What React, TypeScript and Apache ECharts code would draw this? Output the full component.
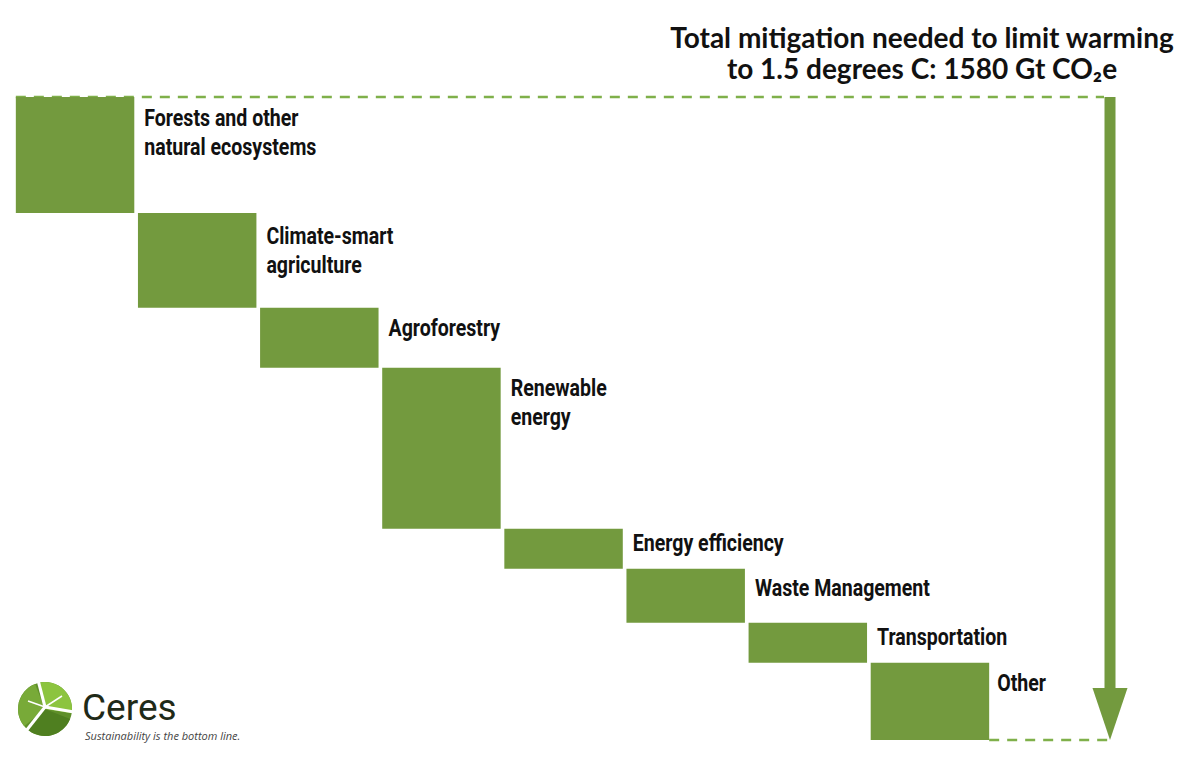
import React, { useEffect, useRef } from "react";
import * as echarts from "echarts";

const categories = [
  "Forests and other\nnatural ecosystems",
  "Climate-smart\nagriculture",
  "Agroforestry",
  "Renewable\nenergy",
  "Energy efficiency",
  "Waste Management",
  "Transportation",
  "Other",
];
const values = [285, 233, 147, 396, 98, 133, 98, 190];
const total = 1580;
const titleLines = ["Total mitigation needed to limit warming", "to 1.5 degrees C: 1580 Gt CO₂e"];
const logoName = "Ceres";
const logoTagline = "Sustainability is the bottom line.";

// vertical nudge of each label below its bar's top (styling)
const labelDy = [6.5, 8.5, 5.5, 5.5, -0.5, 4.5, -0.5, 5.5];

const BAR = "#739a3e";
const DASH = "#7fb04a";

export default function App() {
  const ref = useRef<HTMLDivElement>(null);
  useEffect(() => {
    document.body.style.margin = "0";
    const chart = echarts.init(ref.current!, null, { renderer: "svg" });
    const bases: number[] = [];
    let acc = 0;
    for (const v of values) {
      bases.push(acc);
      acc += v;
    }
    const BW = 0.97;
    chart.setOption({
      animation: false,
      grid: { left: 14, right: 209, top: 97, bottom: 25 },
      xAxis: { type: "category", data: categories, show: false },
      yAxis: { type: "value", inverse: true, min: 0, max: total, show: false },
      series: [
        {
          type: "bar",
          stack: "w",
          data: bases,
          itemStyle: { color: "transparent" },
          silent: true,
          barWidth: BW * 100 + "%",
        },
        {
          type: "bar",
          stack: "w",
          data: values,
          barWidth: BW * 100 + "%",
          itemStyle: { color: BAR },
        },
      ],
    });

    const yTop = chart.convertToPixel({ yAxisIndex: 0 }, 0) as number;
    const yBot = chart.convertToPixel({ yAxisIndex: 0 }, total) as number;
    const xs = categories.map((c) => chart.convertToPixel({ xAxisIndex: 0 }, c) as number);
    const band = (xs[xs.length - 1] - xs[0]) / (categories.length - 1);
    const barHalf = (band * BW) / 2;
    const xLeft = xs[0] - barHalf;
    const xRightBar = xs[xs.length - 1] + barHalf;
    const ax = 1110;

    const labelEls = categories.map((c, i) => ({
      type: "text",
      x: xs[i] + barHalf + (i === categories.length - 1 ? 8 : 10),
      y: (chart.convertToPixel({ yAxisIndex: 0 }, bases[i]) as number) + labelDy[i],
      scaleX: 0.85,
      style: {
        text: c,
        font: "bold 23px Roboto, sans-serif",
        lineHeight: 29,
        fill: "#111",
        align: "left",
        verticalAlign: "top",
      },
    }));

    chart.setOption({
      graphic: [
        ...labelEls,
        {
          type: "line",
          shape: { x1: xLeft, y1: yTop, x2: ax - 6, y2: yTop },
          style: { stroke: DASH, lineWidth: 2.5, lineDash: [10, 8] },
        },
        {
          type: "line",
          shape: { x1: xRightBar, y1: yBot, x2: ax, y2: yBot },
          style: { stroke: DASH, lineWidth: 2.5, lineDash: [10, 8] },
        },
        {
          type: "rect",
          shape: { x: ax - 5.5, y: yTop, width: 11, height: yBot - yTop - 50 },
          style: { fill: BAR },
        },
        {
          type: "polygon",
          shape: { points: [[ax - 17.5, yBot - 52], [ax + 17.5, yBot - 52], [ax, yBot]] },
          style: { fill: BAR },
        },
        {
          type: "text",
          x: 922,
          y: 37,
          style: {
            text: titleLines[0],
            font: "bold 28px Lato, sans-serif",
            fill: "#111",
            align: "center",
            verticalAlign: "middle",
          },
        },
        {
          type: "text",
          x: 922,
          y: 68,
          style: {
            text: titleLines[1],
            font: "bold 28px Lato, sans-serif",
            fill: "#111",
            align: "center",
            verticalAlign: "middle",
          },
        },
        // logo
        {
          type: "group",
          children: [
            { type: "circle", shape: { cx: 45, cy: 709, r: 27 }, style: { fill: "#5f8f2a" } },
            { type: "sector", shape: { cx: 45, cy: 709, r: 27, r0: 0, startAngle: -Math.PI * 0.58, endAngle: Math.PI * 0.05 }, style: { fill: "#8cc43f" } },
            { type: "sector", shape: { cx: 45, cy: 709, r: 27, r0: 0, startAngle: Math.PI * 0.78, endAngle: Math.PI * 1.38 }, style: { fill: "#78aa38" } },
            { type: "sector", shape: { cx: 45, cy: 709, r: 27, r0: 0, startAngle: Math.PI * 0.12, endAngle: Math.PI * 0.72 }, style: { fill: "#4f7f20" } },
            { type: "line", shape: { x1: 45, y1: 707, x2: 38, y2: 680 }, style: { stroke: "#fff", lineWidth: 3 } },
            { type: "line", shape: { x1: 45, y1: 707, x2: 74, y2: 712 }, style: { stroke: "#fff", lineWidth: 3 } },
            { type: "line", shape: { x1: 45, y1: 707, x2: 26, y2: 731 }, style: { stroke: "#fff", lineWidth: 3 } },
            { type: "line", shape: { x1: 45, y1: 707, x2: 28, y2: 701 }, style: { stroke: "#fff", lineWidth: 1.5 } },
            { type: "line", shape: { x1: 45, y1: 707, x2: 62, y2: 696 }, style: { stroke: "#fff", lineWidth: 1.5 } },
          ],
        },
        {
          type: "text",
          x: 82,
          y: 707,
          style: {
            text: logoName,
            font: "37px Roboto, sans-serif",
            fill: "#1f2a18",
            align: "left",
            verticalAlign: "middle",
          },
        },
        {
          type: "text",
          x: 85,
          y: 735,
          style: {
            text: logoTagline,
            font: "italic 11px 'Open Sans', sans-serif",
            fill: "#444",
            align: "left",
            verticalAlign: "middle",
          },
        },
      ],
    });
    return () => chart.dispose();
  }, []);
  return <div ref={ref} style={{ width: 1200, height: 765 }} />;
}
